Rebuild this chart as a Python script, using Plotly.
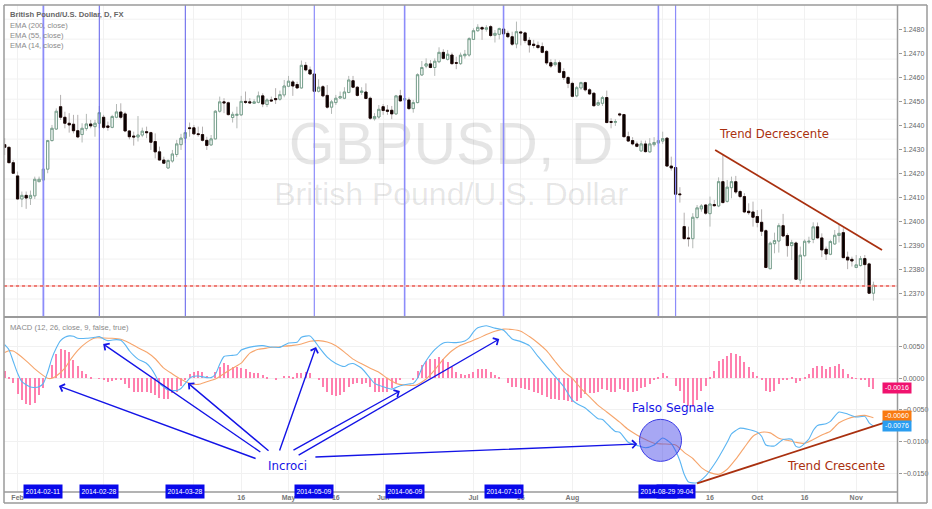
import plotly.graph_objects as go

W, H = 932, 509

opens = [1.24321,1.24310,1.24246,1.24191,1.24095,1.24110,1.24098,1.24108,1.24167,1.24174,
1.24219,1.24338,1.24386,1.24479,1.24435,1.24410,1.24406,1.24379,1.24363,1.24388,
1.24407,1.24396,1.24410,1.24435,1.24399,1.24393,1.24435,1.24457,1.24449,1.24378,
1.24357,1.24353,1.24361,1.24375,1.24371,1.24334,1.24291,1.24257,1.24224,1.24253,
1.24280,1.24321,1.24348,1.24391,1.24391,1.24366,1.24363,1.24339,1.24320,1.24345,
1.24460,1.24499,1.24495,1.24434,1.24443,1.24445,1.24501,1.24499,1.24493,1.24497,
1.24524,1.24488,1.24507,1.24513,1.24510,1.24528,1.24564,1.24582,1.24571,1.24557,
1.24651,1.24632,1.24615,1.24543,1.24562,1.24526,1.24477,1.24496,1.24515,1.24514,
1.24538,1.24587,1.24560,1.24538,1.24540,1.24514,1.24429,1.24436,1.24479,1.24465,
1.24464,1.24449,1.24524,1.24507,1.24507,1.24471,1.24496,1.24611,1.24648,1.24657,
1.24642,1.24666,1.24705,1.24676,1.24694,1.24662,1.24658,1.24691,1.24694,1.24759,
1.24795,1.24808,1.24801,1.24812,1.24776,1.24780,1.24802,1.24784,1.24770,1.24740,
1.24790,1.24786,1.24755,1.24739,1.24734,1.24729,1.24709,1.24662,1.24654,1.24662,
1.24625,1.24600,1.24576,1.24524,1.24557,1.24579,1.24549,1.24535,1.24486,1.24493,
1.24517,1.24417,1.24414,1.24449,1.24446,1.24354,1.24338,1.24324,1.24295,1.24324,
1.24291,1.24321,1.24328,1.24336,1.24348,1.24232,1.24226,1.24116,1.23980,1.23933,
1.23930,1.24018,1.24054,1.24070,1.24034,1.24072,1.24066,1.24167,1.24085,1.24142,
1.24167,1.24126,1.24105,1.24044,1.24041,1.24022,1.23998,1.23963,1.23805,1.23909,
1.23920,1.23984,1.23943,1.23901,1.23912,1.23758,1.23859,1.23916,1.23927,1.23979,
1.23933,1.23886,1.23865,1.23908,1.23943,1.23955,1.23853,1.23844,1.23810,1.23818,
1.23847,1.23825,1.23703]

highs = [1.24348,1.24313,1.24257,1.24209,1.24126,1.24126,1.24130,1.24188,1.24188,1.24246,
1.24341,1.24403,1.24472,1.24528,1.24458,1.24452,1.24445,1.24445,1.24410,1.24449,
1.24424,1.24424,1.24482,1.24445,1.24417,1.24445,1.24490,1.24493,1.24458,1.24382,
1.24375,1.24440,1.24392,1.24396,1.24375,1.24368,1.24313,1.24271,1.24260,1.24299,
1.24341,1.24366,1.24382,1.24413,1.24403,1.24396,1.24396,1.24354,1.24361,1.24465,
1.24521,1.24514,1.24500,1.24458,1.24479,1.24524,1.24542,1.24514,1.24510,1.24542,
1.24535,1.24514,1.24521,1.24556,1.24546,1.24590,1.24607,1.24590,1.24583,1.24671,
1.24665,1.24646,1.24618,1.24593,1.24569,1.24569,1.24507,1.24528,1.24542,1.24560,
1.24607,1.24607,1.24565,1.24560,1.24576,1.24521,1.24452,1.24486,1.24490,1.24486,
1.24482,1.24528,1.24549,1.24535,1.24517,1.24507,1.24618,1.24669,1.24680,1.24673,
1.24680,1.24726,1.24718,1.24715,1.24704,1.24687,1.24704,1.24715,1.24768,1.24805,
1.24822,1.24815,1.24818,1.24819,1.24798,1.24808,1.24812,1.24795,1.24791,1.24833,
1.24795,1.24791,1.24768,1.24757,1.24750,1.24746,1.24715,1.24676,1.24676,1.24671,
1.24639,1.24607,1.24583,1.24565,1.24583,1.24583,1.24556,1.24538,1.24507,1.24524,
1.24546,1.24431,1.24427,1.24454,1.24449,1.24375,1.24352,1.24334,1.24338,1.24338,
1.24348,1.24352,1.24357,1.24375,1.24352,1.24271,1.24230,1.24144,1.24038,1.23980,
1.24036,1.24070,1.24074,1.24074,1.24105,1.24091,1.24185,1.24278,1.24174,1.24188,
1.24191,1.24133,1.24119,1.24077,1.24084,1.24049,1.24052,1.23969,1.23918,1.23955,
1.23994,1.24033,1.23952,1.23925,1.23918,1.23897,1.23927,1.23938,1.23998,1.23997,
1.23952,1.23897,1.23925,1.23966,1.23991,1.23973,1.23876,1.23855,1.23862,1.23858,
1.23862,1.23830,1.23751]

lows = [1.24278,1.24244,1.24199,1.24091,1.24061,1.24054,1.24070,1.24095,1.24165,1.24167,
1.24202,1.24334,1.24382,1.24424,1.24389,1.24371,1.24368,1.24348,1.24330,1.24379,
1.24389,1.24354,1.24389,1.24386,1.24379,1.24389,1.24431,1.24427,1.24373,1.24343,
1.24317,1.24334,1.24352,1.24348,1.24299,1.24264,1.24255,1.24241,1.24221,1.24246,
1.24269,1.24299,1.24327,1.24354,1.24361,1.24354,1.24334,1.24299,1.24316,1.24343,
1.24454,1.24452,1.24442,1.24413,1.24389,1.24440,1.24490,1.24493,1.24490,1.24493,
1.24477,1.24477,1.24500,1.24490,1.24504,1.24518,1.24560,1.24524,1.24554,1.24554,
1.24626,1.24611,1.24538,1.24538,1.24518,1.24471,1.24449,1.24486,1.24513,1.24510,
1.24535,1.24556,1.24521,1.24528,1.24510,1.24424,1.24421,1.24429,1.24445,1.24445,
1.24427,1.24445,1.24500,1.24486,1.24465,1.24454,1.24493,1.24607,1.24639,1.24639,
1.24607,1.24660,1.24676,1.24671,1.24653,1.24635,1.24653,1.24679,1.24687,1.24757,
1.24791,1.24757,1.24791,1.24768,1.24746,1.24759,1.24759,1.24764,1.24732,1.24722,
1.24734,1.24743,1.24704,1.24722,1.24718,1.24701,1.24653,1.24640,1.24646,1.24618,
1.24590,1.24556,1.24518,1.24518,1.24549,1.24542,1.24528,1.24479,1.24482,1.24482,
1.24410,1.24389,1.24399,1.24438,1.24352,1.24332,1.24318,1.24310,1.24291,1.24288,
1.24288,1.24313,1.24313,1.24324,1.24230,1.24213,1.24112,1.24080,1.23927,1.23897,
1.23890,1.24011,1.24042,1.24029,1.23980,1.24063,1.24061,1.24077,1.24080,1.24098,
1.24116,1.24098,1.24036,1.24029,1.23980,1.23977,1.23941,1.23807,1.23803,1.23869,
1.23872,1.23936,1.23855,1.23841,1.23758,1.23742,1.23855,1.23908,1.23911,1.23930,
1.23853,1.23841,1.23861,1.23904,1.23914,1.23848,1.23803,1.23814,1.23807,1.23814,
1.23737,1.23700,1.23672]

closes = [1.24310,1.24246,1.24202,1.24095,1.24110,1.24099,1.24110,1.24177,1.24177,1.24219,
1.24338,1.24389,1.24460,1.24435,1.24410,1.24403,1.24379,1.24353,1.24389,1.24407,
1.24399,1.24410,1.24454,1.24393,1.24393,1.24438,1.24457,1.24435,1.24378,1.24354,
1.24353,1.24361,1.24377,1.24371,1.24331,1.24291,1.24257,1.24244,1.24255,1.24282,
1.24324,1.24348,1.24371,1.24388,1.24366,1.24363,1.24339,1.24318,1.24345,1.24460,
1.24499,1.24495,1.24446,1.24447,1.24447,1.24501,1.24497,1.24495,1.24499,1.24524,
1.24490,1.24507,1.24503,1.24508,1.24529,1.24565,1.24585,1.24565,1.24557,1.24651,
1.24632,1.24615,1.24543,1.24560,1.24524,1.24477,1.24499,1.24514,1.24521,1.24540,
1.24590,1.24560,1.24526,1.24544,1.24513,1.24431,1.24438,1.24468,1.24463,1.24460,
1.24449,1.24524,1.24503,1.24513,1.24471,1.24496,1.24612,1.24642,1.24657,1.24642,
1.24668,1.24705,1.24680,1.24697,1.24658,1.24660,1.24693,1.24697,1.24762,1.24795,
1.24809,1.24802,1.24807,1.24775,1.24784,1.24804,1.24782,1.24770,1.24739,1.24791,
1.24786,1.24754,1.24736,1.24734,1.24725,1.24705,1.24661,1.24648,1.24662,1.24622,
1.24600,1.24576,1.24522,1.24558,1.24579,1.24549,1.24532,1.24483,1.24496,1.24517,
1.24413,1.24414,1.24417,1.24445,1.24354,1.24336,1.24324,1.24314,1.24324,1.24292,
1.24324,1.24330,1.24338,1.24346,1.24232,1.24224,1.24115,1.24113,1.23930,1.23930,
1.24019,1.24058,1.24066,1.24036,1.24074,1.24067,1.24167,1.24080,1.24144,1.24167,
1.24124,1.24105,1.24041,1.24038,1.24019,1.23997,1.23961,1.23810,1.23911,1.23922,
1.23984,1.23941,1.23901,1.23914,1.23761,1.23861,1.23919,1.23919,1.23979,1.23933,
1.23883,1.23866,1.23918,1.23944,1.23952,1.23851,1.23841,1.23837,1.23821,1.23847,
1.23822,1.23703,1.23736]

# MACD histogram, one value per bar
hist = [0.00122,0.00027,-0.00080,-0.00255,-0.00346,-0.00410,-0.00426,-0.00383,-0.00266,-0.00160,
0,0.00213,0.00388,0.00463,0.00452,0.00410,0.00293,0.00197,0.00122,0.00064,
0.00011,0,-0.00005,-0.00016,-0.00053,-0.00037,-0.00021,-0.00027,-0.00096,-0.00160,
-0.00213,-0.00223,-0.00223,-0.00213,-0.00229,-0.00266,-0.00303,-0.00319,-0.00319,-0.00239,
-0.00213,-0.00117,-0.00027,0.00069,0.00106,0.00112,0.00096,0.00037,0,0.00106,
0.00186,0.00239,0.00213,0.00176,0.00176,0.00170,0.00149,0.00106,0.00080,0.00080,
0.00048,0.00016,0,-0.00016,0,0.00032,0.00037,0.00027,0.00085,0.00085,
0.00096,0.00090,0,-0.00027,-0.00133,-0.00223,-0.00266,-0.00282,-0.00266,-0.00223,
-0.00133,-0.00090,-0.00080,-0.00090,-0.00080,-0.00144,-0.00223,-0.00223,-0.00213,-0.00213,
-0.00160,-0.00080,-0.00027,0,0,-0.00011,0.00122,0.00213,0.00266,0.00303,
0.00309,0.00330,0.00309,0.00255,0.00186,0.00096,0.00069,0.00053,0.00064,0.00106,
0.00149,0.00154,0.00149,0.00101,0.00053,0.00027,0,-0.00080,-0.00133,-0.00144,
-0.00149,-0.00170,-0.00186,-0.00213,-0.00239,-0.00266,-0.00293,-0.00319,-0.00330,-0.00335,
-0.00346,-0.00362,-0.00372,-0.00356,-0.00303,-0.00255,-0.00239,-0.00229,-0.00213,-0.00170,
-0.00186,-0.00213,-0.00223,-0.00170,-0.00186,-0.00213,-0.00213,-0.00202,-0.00160,-0.00133,
-0.00096,-0.00032,0.00021,0.00080,0.00032,0,-0.00122,-0.00202,-0.00383,-0.00436,
-0.00452,-0.00346,-0.00202,-0.00122,0.00011,0.00117,0.00277,0.00309,0.00356,0.00404,
0.00388,0.00346,0.00255,0.00186,0.00101,0.00032,-0.00027,-0.00202,-0.00218,-0.00202,
-0.00090,-0.00032,-0.00027,0.00011,-0.00074,-0.00043,0.00016,0.00069,0.00160,0.00197,
0.00192,0.00149,0.00181,0.00202,0.00223,0.00144,0.00064,0.00021,-0.00005,-0.00011,
-0.00027,-0.00133,-0.00170]

macd_bars = [0,1,2,3,4,6,7,8,9,10,11,12,13,14,15,16,17,19,21,22,23,24,26,27,28,29,30,31,33,34,35,36,37,38,40,41,42,43,44,45,47,48,49,50,51,53,54,55,56,58,60,62,64,66,68,69,71,
72,73,75,77,79,80,81,83,85,86,88,90,92,94,95,96,97,98,100,102,103,105,107,108,109,110,112,114,116,117,118,120,122,124,126,128,130,132,133,135,137,138,139,141,142,143,
145,147,149,151,153,155,156,157,158,159,161,163,165,166,168,169,170,171,173,175,176,177,179,181,183,184,185,187,188,189,191,192,194,196,198,200,201,202]
macd_values = [0.00532,0.00452,0.00266,0.00080,-0.00053,-0.00138,-0.00144,-0.00133,-0.00080,0.00096,0.00319,0.00479,0.00596,0.00649,0.00670,0.00665,0.00633,0.00633,0.00649,0.00660,0.00622,0.00596,0.00612,0.00601,0.00532,0.00436,0.00362,0.00303,0.00234,0.00160,0.00053,-0.00080,-0.00138,-0.00186,-0.00192,-0.00160,-0.00080,0,0.00032,0.00037,0.00011,0.00011,0.00064,0.00223,0.00346,0.00362,0.00372,0.00447,0.00473,0.00505,0.00516,0.00495,0.00489,0.00559,0.00569,0.00649,0.00670,
0.00596,0.00500,0.00335,0.00234,0.00186,0.00223,0.00234,0.00160,0,-0.00080,-0.00133,-0.00170,-0.00117,-0.00090,-0.00080,0,0.00160,0.00277,0.00452,0.00559,0.00569,0.00564,0.00591,0.00638,0.00734,0.00798,0.00830,0.00793,0.00761,0.00692,0.00622,0.00580,0.00516,0.00346,0.00186,0.00027,-0.00133,-0.00346,-0.00399,-0.00468,-0.00585,-0.00638,-0.00649,-0.00782,-0.00841,-0.00851,
-0.01011,-0.01059,-0.01096,-0.01053,-0.00942,-0.01032,-0.01144,-0.01303,-0.01516,-0.01639,-0.01649,-0.01543,-0.01357,-0.01250,-0.01011,-0.00878,-0.00825,-0.00787,-0.00809,-0.00851,-0.00915,-0.01053,-0.01069,-0.00968,-0.00963,-0.01075,-0.01085,-0.00958,-0.00825,-0.00745,-0.00718,-0.00681,-0.00532,-0.00564,-0.00612,-0.00601,-0.00702,-0.00755]

signal_bars = [0,1,2,3,5,7,9,10,11,12,14,15,17,19,21,23,25,27,29,31,33,35,37,39,41,43,45,47,49,51,53,55,57,59,61,64,67,69,71,
73,75,77,79,81,83,85,87,89,91,93,95,96,98,100,102,104,106,108,110,112,114,116,118,120,122,124,126,128,130,132,134,136,138,140,142,143,
145,147,149,151,153,156,158,160,162,164,166,168,170,172,174,176,178,180,182,184,186,188,190,192,194,196,198,200,202]
signal_values = [0.00410,0.00436,0.00431,0.00388,0.00277,0.00149,0.00043,0,0,0.00037,0.00160,0.00266,0.00442,0.00564,0.00638,0.00638,0.00633,0.00617,0.00559,0.00484,0.00415,0.00309,0.00160,0.00069,-0.00016,-0.00080,-0.00096,-0.00053,-0.00011,0.00074,0.00160,0.00239,0.00399,0.00458,0.00479,0.00500,0.00521,0.00543,0.00585,
0.00596,0.00575,0.00516,0.00415,0.00303,0.00229,0.00160,0.00096,0,-0.00080,-0.00106,-0.00112,-0.00096,-0.00011,0.00133,0.00303,0.00436,0.00521,0.00575,0.00628,0.00692,0.00745,0.00777,0.00771,0.00745,0.00660,0.00559,0.00436,0.00266,0.00106,0,-0.00160,-0.00293,-0.00426,-0.00532,-0.00638,-0.00692,
-0.00809,-0.00894,-0.00968,-0.01027,-0.01037,-0.01053,-0.01170,-0.01266,-0.01410,-0.01490,-0.01516,-0.01436,-0.01277,-0.01091,-0.00915,-0.00851,-0.00862,-0.00947,-0.00979,-0.01011,-0.01027,-0.00968,-0.00894,-0.00835,-0.00702,-0.00638,-0.00601,-0.00585,-0.00622]

price_ticks = [1.2370,1.2380,1.2390,1.2400,1.2410,1.2420,1.2430,1.2440,1.2450,1.2460,1.2470,1.2480]
price_grid = [1.24843,1.24760,1.24677,1.24594,1.24510,1.24427,1.24344,1.24261,1.24178,1.24094,1.24011,1.23928,1.23845,1.23762,1.23679]
macd_ticks = [0.0050,0.0000,-0.0050,-0.0100,-0.0150]
# Mar, Apr and Sep sit under the blue date boxes in the original
time_bars = [3,23,44,55,66,77,88,109,120,132,153,164,175,186,198]
time_labels = ["Feb","","","16","May","16","Jun","Jul","16","Aug","","16","Oct","16","Nov"]

cross_bars = [156,9,22,42,72,93,116,152]
cross_dates = ["2014-09-04","2014-02-11","2014-02-28","2014-03-28","2014-05-09","2014-06-09","2014-07-10","2014-08-29"]
cross_widths = [1.2,1.8,1,1,1.2,1.6,1.6,1.6]
support_price = 1.23733

# arrows from the "Incroci" label to each crossing: bar, macd value
arrow_from = [(58.7,-0.01275),(59.8,-0.01180),(61.7,-0.01164),(63.8,-0.01164),(66.8,-0.01149),(68,-0.01228),(71.9,-0.01243)]
arrow_to = [(12.6,-0.00122),(22.9,0.00542),(42.6,-0.00074),(72.4,0.00495),(91.9,-0.00201),(115,0.00621),(147.1,-0.01038)]
down_trend_bars, down_trend_prices = [165.2,204], [1.24299,1.23883]
up_trend_bars, up_trend_values = [161,205.5], [-0.0166,-0.00681]
false_signal = (152.5,-0.0098)

bars = list(range(len(opens)))
tops = [max(o,c) for o,c in zip(opens,closes)]
bottoms = [min(o,c) for o,c in zip(opens,closes)]

FONT = "Liberation Sans"
NOTE = "DejaVu Sans"
GRID = "#f1f1f1"
BLUE = "#1414e6"
BROWN = "#a9300f"
FRAME = "#9a9a9a"

fig = go.Figure()

fig.add_trace(go.Scatter(x=[103.8],y=[1.24302],mode="text",text=["GBPUSD, D"],xaxis="x",yaxis="y",
    textfont=dict(family=FONT,size=59,color="rgba(0,0,0,0.1)"),hoverinfo="skip",showlegend=False))
fig.add_trace(go.Scatter(x=[103.8],y=[1.24102],mode="text",text=["British Pound/U.S. Dollar"],xaxis="x",yaxis="y",
    textfont=dict(family=FONT,size=32,color="rgba(0,0,0,0.1)"),hoverinfo="skip",showlegend=False))

# wicks first, then bodies on top so they can have another colour
fig.add_trace(go.Candlestick(x=bars,open=opens,high=highs,low=lows,close=closes,xaxis="x",yaxis="y",
    increasing=dict(line=dict(color="#b4b9b6",width=1),fillcolor="#ffffff"),
    decreasing=dict(line=dict(color="#b4b0b0",width=1),fillcolor="#000000"),
    showlegend=False,hoverinfo="skip"))
fig.add_trace(go.Candlestick(x=bars,open=opens,high=tops,low=bottoms,close=closes,xaxis="x",yaxis="y",
    increasing=dict(line=dict(color="#6d9a85",width=0.9),fillcolor="#ffffff"),
    decreasing=dict(line=dict(color="#1d0605",width=0.9),fillcolor="#000000"),
    showlegend=False,hoverinfo="skip"))

fig.add_trace(go.Bar(x=bars,y=hist,width=0.24,marker=dict(color="#ff7fae",line=dict(width=0)),xaxis="x2",yaxis="y2",showlegend=False))
fig.add_trace(go.Scatter(x=signal_bars,y=signal_values,mode="lines",line=dict(color="#f6a56c",width=1.1,shape="spline",smoothing=0.6),xaxis="x2",yaxis="y2",showlegend=False))
fig.add_trace(go.Scatter(x=macd_bars,y=macd_values,mode="lines",line=dict(color="#5bb5f2",width=1.1,shape="spline",smoothing=0.6),xaxis="x2",yaxis="y2",showlegend=False))

fig.add_trace(go.Scatter(x=down_trend_bars,y=down_trend_prices,mode="lines",line=dict(color=BROWN,width=1.8),xaxis="x",yaxis="y",showlegend=False))
fig.add_trace(go.Scatter(x=up_trend_bars,y=up_trend_values,mode="lines",line=dict(color=BROWN,width=1.8),xaxis="x2",yaxis="y2",showlegend=False))
fig.add_trace(go.Scatter(x=[false_signal[0]],y=[false_signal[1]],mode="markers",xaxis="x2",yaxis="y2",showlegend=False,
    marker=dict(size=42,color="rgba(60,60,230,0.45)",line=dict(color="#3a3ae6",width=1))))

shapes = []
for level in price_grid:
    shapes.append(dict(type="line",xref="x domain",yref="y",x0=0,x1=1,y0=level,y1=level,layer="below",line=dict(color=GRID,width=1)))
# white patch left in the grid of the original, under the Apr candles
shapes.append(dict(type="rect",xref="paper",yref="paper",x0=192/W,x1=210/W,y0=1-158/H,y1=1-207/H,layer="between",fillcolor="#ffffff",line=dict(width=0)))
for b,w in zip(cross_bars,cross_widths):
    color = "#8c8cfa" if w > 1.1 else "#5c5cea"
    shapes.append(dict(type="line",xref="x",yref="y domain",x0=b,x1=b,y0=0,y1=1,line=dict(color=color,width=w)))
shapes.append(dict(type="line",xref="x domain",yref="y",x0=0,x1=1,y0=support_price,y1=support_price,line=dict(color="#f7b5b0",width=1)))
shapes.append(dict(type="line",xref="x domain",yref="y",x0=0,x1=1,y0=support_price,y1=support_price,line=dict(color="#e2231a",width=1,dash="dot")))
# frame
def px_line(x0,y0,x1,y1,width=1.5):
    return dict(type="line",xref="paper",yref="paper",x0=x0/W,x1=x1/W,y0=1-y0/H,y1=1-y1/H,line=dict(color=FRAME,width=width))
shapes += [px_line(4,5,927,5),px_line(4,5,4,503),px_line(927,5,927,503),px_line(4,503,927,503),
           px_line(4,317,927,317,2),px_line(4,492,897.5,492),px_line(897.5,5,897.5,503)]

ann = []
def label(text,x,y,size=7.6,color="#8a8a8a",family=FONT,anchor="left"):
    ann.append(dict(text=text,xref="paper",yref="paper",x=x/W,y=1-y/H,xanchor=anchor,yanchor="middle",showarrow=False,
                    font=dict(family=family,size=size,color=color)))
label("<b>British Pound/U.S. Dollar, D, FX</b>",8,15,color="#666666")
label("EMA (200, close)",8,25.5)
label("EMA (55, close)",8,35.5)
label("EMA (14, close)",8,45.5)
label("MACD (12, 26, close, 9, false, true)",8,327)

for (x0,y0),(x1,y1) in zip(arrow_from,arrow_to):
    ann.append(dict(xref="x2",yref="y2",axref="x2",ayref="y2",x=x1,y=y1,ax=x0,ay=y0,text="",showarrow=True,
                    arrowhead=4,arrowsize=1.1,arrowwidth=1.4,arrowcolor=BLUE))
label("Incroci",287,466,size=11.8,color=BLUE,family=NOTE,anchor="center")
label("Falso Segnale",673,408,size=12,color=BLUE,family=NOTE,anchor="center")
label("Trend Decrescente",774,133.5,size=11.7,color=BROWN,family=NOTE,anchor="center")
label("Trend Crescente",836,465.5,size=12,color=BROWN,family=NOTE,anchor="center")

for b,d in zip(cross_bars,cross_dates):
    ann.append(dict(text=d,xref="x2",yref="paper",x=b,y=1-498.7/H,showarrow=False,width=38,height=12.5,borderpad=0,
                    bgcolor="#0808ea",font=dict(family=FONT,size=6.8,color="#ffffff")))
for v,c in [(-0.0016,"#f0126e"),(-0.0060,"#f97a10"),(-0.0076,"#2a9df0")]:
    ann.append(dict(text="%.4f"%v,xref="paper",yref="y2",x=911.5/W,y=v,showarrow=False,width=28,height=9.5,borderpad=0,
                    bgcolor=c,font=dict(family=FONT,size=7,color="#ffffff")))

x_range = [-0.156,207.6]
x_domain = [4/W,897.5/W]
tick_font = dict(family=FONT,size=7,color="#666666")

fig.update_layout(
    width=W,height=H,margin=dict(l=0,r=0,t=0,b=0),paper_bgcolor="#ffffff",plot_bgcolor="#ffffff",
    showlegend=False,shapes=shapes,annotations=ann,boxgap=0.25,bargap=0,
    xaxis=dict(domain=x_domain,range=x_range,anchor="y",rangeslider=dict(visible=False),tickvals=time_bars,
               showticklabels=False,showgrid=True,gridcolor=GRID,zeroline=False,ticks=""),
    yaxis=dict(domain=[1-317/H,1-5/H],range=[1.23604,1.24902],side="right",anchor="x",tickvals=price_ticks,tickformat=".4f",
               showgrid=False,zeroline=False,ticks="outside",ticklen=3,tickcolor=FRAME,tickfont=tick_font),
    xaxis2=dict(domain=x_domain,range=x_range,anchor="y2",tickvals=time_bars,ticktext=time_labels,showgrid=True,gridcolor=GRID,
                zeroline=False,ticks="",tickangle=0,tickfont=dict(family=FONT,size=7,color="#777777",weight="bold")),
    yaxis2=dict(domain=[1-492/H,1-317/H],range=[-0.01796,0.00969],side="right",anchor="x2",tickvals=macd_ticks,tickformat=".4f",
                showgrid=True,gridcolor=GRID,zeroline=False,ticks="outside",ticklen=3,tickcolor=FRAME,tickfont=tick_font),
)

# drop the browser's default page margin so the chart fills the window
fig.write_html("out.html",config=dict(displayModeBar=False),post_script="document.body.style.margin='0';document.body.style.overflow='hidden';")
